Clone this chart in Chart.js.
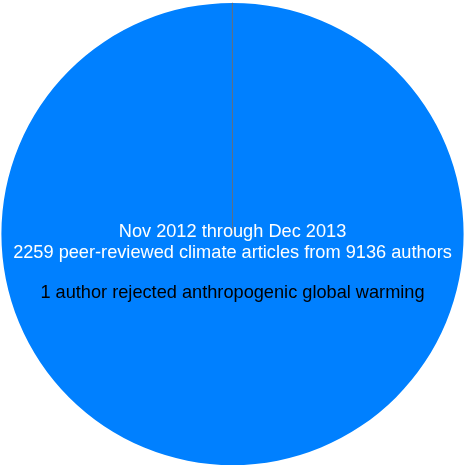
<!DOCTYPE html>
<html>
<head>
<meta charset="utf-8">
<style>
  html, body { margin: 0; padding: 0; background: #ffffff; }
  #wrap { width: 465px; height: 468px; }
</style>
<script src="https://cdn.jsdelivr.net/npm/chart.js@4/dist/chart.umd.min.js"></script>
</head>
<body>
<div id="wrap"><canvas id="c" width="465" height="468"></canvas></div>
<script>
const categories = ['Accepted or did not reject AGW', 'Rejected AGW'];
const authorCounts = [9135, 1];
const titleLines = ['Nov 2012 through Dec 2013', '2259 peer-reviewed climate articles from 9136 authors'];
const noteLine = '1 author rejected anthropogenic global warming';

const centerText = {
  id: 'centerText',
  afterDraw(chart) {
    const ctx = chart.ctx;
    const meta = chart.getDatasetMeta(0);
    const arc = meta.data[0];
    const cx = arc.x, cy = arc.y;
    ctx.save();
    ctx.font = '18.2px "Liberation Sans", Arial, sans-serif';
    ctx.textAlign = 'center';
    ctx.textBaseline = 'alphabetic';
    ctx.fillStyle = '#ffffff';
    ctx.fillText(titleLines[0], cx, cy + 3);
    ctx.fillText(titleLines[1], cx, cy + 24);
    ctx.fillStyle = '#000000';
    ctx.fillText(noteLine, cx, cy + 64);
    ctx.restore();
  }
};

new Chart(document.getElementById('c'), {
  type: 'pie',
  data: {
    labels: categories,
    datasets: [{
      data: authorCounts,
      backgroundColor: ['#0080FF', '#C0392B'],
      borderColor: ['#0080FF', '#5f6f80'],
      borderWidth: [0, 0.8]
    }]
  },
  options: {
    responsive: false,
    animation: false,
    layout: { padding: 1 },
    plugins: {
      legend: { display: false },
      tooltip: { enabled: false }
    }
  },
  plugins: [centerText]
});
</script>
</body>
</html>
